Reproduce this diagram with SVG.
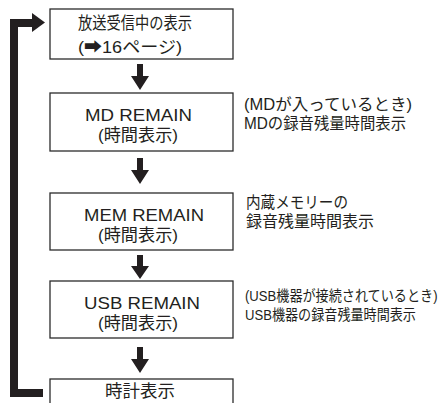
<svg xmlns="http://www.w3.org/2000/svg" width="443" height="403" viewBox="0 0 443 403">
<defs>
<style>
.box{fill:#fff;stroke:#2b2b2b;stroke-width:1.3}
.t{font-family:"Liberation Sans","Noto Sans CJK JP",sans-serif;fill:#231f20;font-size:17px}
.n{font-family:"Liberation Sans","Noto Sans CJK JP",sans-serif;fill:#231f20;font-size:16px}
.s{font-family:"Liberation Sans","Noto Sans CJK JP",sans-serif;fill:#231f20;font-size:15px}
.ar{fill:#231f20}
</style>
</defs>
<g id="connectors">
<path d="M43,393 H14 V23 H33" fill="none" stroke="#231f20" stroke-width="8"/>
<polygon class="ar" points="32,13 45,22.5 32,32"/>
<path class="ar" d="M137,64 h6 v12 h6 l-9,14 l-9,-14 h6 z"/>
<path class="ar" d="M137,158 h6 v12 h6 l-9,14 l-9,-14 h6 z"/>
<path class="ar" d="M137,255 h6 v11 h6 l-9,13 l-9,-13 h6 z"/>
<path class="ar" d="M137,347 h6 v12 h6 l-9,14 l-9,-14 h6 z"/>
</g>
<g id="node1">
<rect class="box" x="50" y="9" width="183" height="50"/>
<text class="t" x="78" y="29" textLength="114" lengthAdjust="spacingAndGlyphs">放送受信中の表示</text>
<text class="t" x="78" y="53" textLength="104" lengthAdjust="spacingAndGlyphs">(➡16ページ)</text>
</g>
<g id="node2">
<rect class="box" x="50" y="93" width="183" height="58"/>
<text class="t" x="85" y="121" textLength="107" lengthAdjust="spacingAndGlyphs">MD REMAIN</text>
<text class="t" x="98" y="141" textLength="80" lengthAdjust="spacingAndGlyphs">(時間表示)</text>
<text class="n" x="244" y="110" textLength="168" lengthAdjust="spacingAndGlyphs">(MDが入っているとき)</text>
<text class="n" x="244" y="129" textLength="162" lengthAdjust="spacingAndGlyphs">MDの録音残量時間表示</text>
</g>
<g id="node3">
<rect class="box" x="50" y="193" width="183" height="57"/>
<text class="t" x="84" y="221" textLength="120" lengthAdjust="spacingAndGlyphs">MEM REMAIN</text>
<text class="t" x="98" y="241" textLength="80" lengthAdjust="spacingAndGlyphs">(時間表示)</text>
<text class="n" x="246" y="208" textLength="102" lengthAdjust="spacingAndGlyphs">内蔵メモリーの</text>
<text class="n" x="246" y="227" textLength="128" lengthAdjust="spacingAndGlyphs">録音残量時間表示</text>
</g>
<g id="node4">
<rect class="box" x="50" y="281" width="183" height="57"/>
<text class="t" x="84" y="309" textLength="116" lengthAdjust="spacingAndGlyphs">USB REMAIN</text>
<text class="t" x="98" y="329" textLength="80" lengthAdjust="spacingAndGlyphs">(時間表示)</text>
<text class="s" transform="translate(245 301) scale(0.77 1)" textLength="250" lengthAdjust="spacingAndGlyphs">(USB機器が接続されているとき)</text>
<text class="s" transform="translate(245 320) scale(0.77 1)" textLength="222" lengthAdjust="spacingAndGlyphs">USB機器の録音残量時間表示</text>
</g>
<g id="node5">
<rect class="box" x="50" y="379" width="183" height="40"/>
<text class="t" x="105" y="397" textLength="70" lengthAdjust="spacingAndGlyphs">時計表示</text>
</g>
</svg>
